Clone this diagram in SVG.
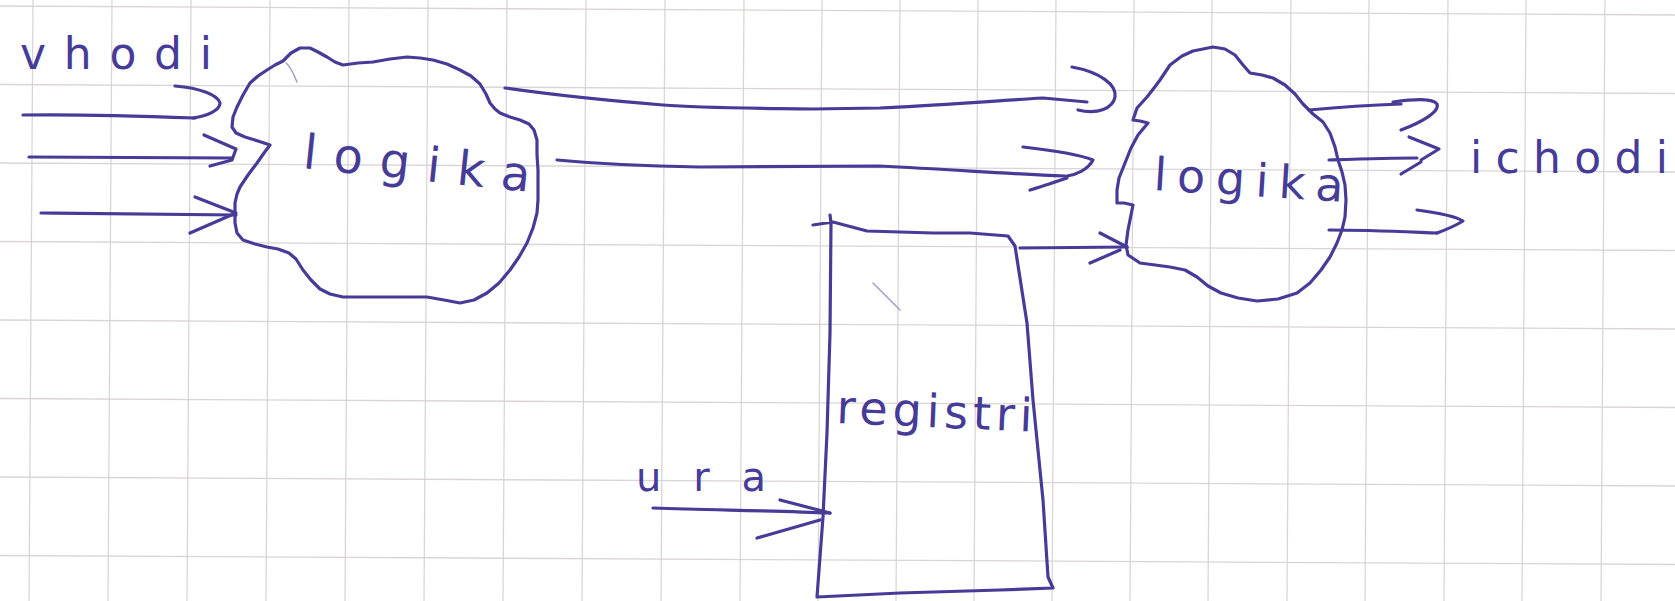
<svg xmlns="http://www.w3.org/2000/svg" width="1675" height="601" viewBox="0 0 1675 601">
<style>
.grid{fill:none;stroke:#dad5d5;stroke-width:1.3}
.pen{fill:none;stroke:#463c98;stroke-width:3.2;stroke-linecap:round;stroke-linejoin:round}
.faint{fill:none;stroke:#a09ac8;stroke-width:1.5;stroke-linecap:round}
.hand{font-family:"DejaVu Sans","Liberation Sans",sans-serif;fill:#463c98}
</style>
<rect x="0" y="0" width="1675" height="601" fill="#ffffff"/>
<g id="grid">
<path class="grid" d="M33,0L29,601 M112,0L108,601 M191,0L187,601 M270,0L266,601 M349,0L345,601 M428,0L424,601 M507,0L503,601 M586,0L582,601 M665,0L661,601 M744,0L740,601 M822,0L818,601 M900,0L896,601 M978,0L974,601 M1056,0L1052,601 M1134,0L1130,601 M1212,0L1208,601 M1291,0L1287,601 M1369,0L1365,601 M1448,0L1444,601 M1526,0L1522,601 M1605,0L1601,601"/>
<path class="grid" d="M0,6L1675,15 M0,84.5L1675,93.5 M0,163L1675,172 M0,241.5L1675,250.5 M0,320L1675,329 M0,398.5L1675,407.5 M0,477L1675,486 M0,555.5L1675,564.5"/>
</g>
<g id="label-vhodi">
<text class="hand" x="20" y="69" font-size="44" textLength="192" lengthAdjust="spacing">vhodi</text>
</g>
<g id="logika-left">
<path class="pen" d="M267,70 L275,65 L283,61 L291,53 L300,48 L310,48 L318,52 L327,57 L335,62 L343,65 L358,63 L373,62 L390,59 L407,57 L420,58 L433,60 L447,64 L460,70 L471,76 L480,84 L486,94 L490,103 L495,109 L500,113 L510,117 L520,120 L529,124 L534,130 L537,140 L537,155 L538,170 L538,185 L538,200 L537,213 L533,228 L527,243 L519,257 L510,270 L499,283 L487,293 L474,300 L460,303 L444,300 L427,297 L407,297 L387,297 L365,297 L343,297 L330,294 L320,289 L311,280 L303,270 L296,259 L289,253 L278,249 L267,247 L255,244 L243,240 L237,233 L235,223 L235,213 L235,203 L237,194 L240,187 L248,175 L257,163 L264,153 L270,145 L258,141 L245,137 L236,133 L232,127 L233,117 L237,107 L243,95 L250,83 L258,76 L267,70 Z"/>
<path class="faint" d="M286,63 C292,68 294,76 297,82"/>
<text class="hand" x="302" y="168" font-size="48" textLength="228" lengthAdjust="spacing" transform="rotate(6 302 168)">logika</text>
</g>
<g id="logika-right">
<path class="pen" d="M1160,80 L1170,65 L1182,56 L1193,51 L1213,47 L1225,49 L1235,55 L1243,65 L1250,73 L1262,75 L1273,78 L1285,85 L1295,94 L1303,104 L1313,114 L1323,122 L1330,133 L1335,147 L1338,160 L1342,172 L1345,185 L1346,200 L1345,217 L1342,230 L1337,243 L1330,257 L1321,270 L1310,283 L1297,293 L1278,299 L1257,301 L1238,298 L1221,293 L1208,286 L1197,277 L1185,270 L1170,267 L1155,265 L1140,263 L1128,255 L1126,245 L1128,230 L1131,215 L1133,205 L1124,203 L1117,203 L1117,190 L1119,178 L1125,163 L1131,148 L1138,135 L1148,123 L1140,121 L1133,120 L1137,108 L1147,97 L1154,88 L1160,80 Z"/>
<text class="hand" x="1153" y="190" font-size="46" textLength="190" lengthAdjust="spacing" transform="rotate(3.5 1153 190)">logika</text>
</g>
<g id="registri">
<path class="pen" d="M813,225 L833,222 L867,231 L933,233 L970,233 L1008,236 L1015,246 L1027,323 L1033,400 L1043,500 L1048,577 L1053,588 L1000,590 L900,593 L817,597 L823,517 L827,433 L830,333 L831,223 L830,215"/>
<path class="faint" d="M873,283 L900,310"/>
<text class="hand" x="836" y="423" font-size="46" textLength="196" lengthAdjust="spacing" transform="rotate(2.5 836 423)">registri</text>
</g>
<g id="label-ura">
<text class="hand" x="636" y="491" font-size="40" textLength="130" lengthAdjust="spacing">ura</text>
</g>
<g id="label-ichodi">
<text class="hand" x="1470" y="173" font-size="44" textLength="198" lengthAdjust="spacing">ichodi</text>
</g>
<g id="connectors">
<path class="pen" d="M23,115 C80,114 140,116 195,118"/>
<path class="pen" d="M175,86 C200,88 218,95 220,103 C220,110 208,116 193,118"/>
<path class="pen" d="M29,157 C100,157 170,158 232,158"/>
<path class="pen" d="M204,135 L236,149 L232,160 M210,166 L232,160"/>
<path class="pen" d="M41,213 C110,214 180,215 236,215"/>
<path class="pen" d="M195,197 L236,213 L190,233"/>
<path class="pen" d="M505,88 C540,93 600,100 663,105 C700,108 740,108 813,109 L880,108 C930,106 977,102 1043,98 L1087,102"/>
<path class="pen" d="M1072,67 C1100,72 1117,85 1115,97 C1113,108 1098,115 1078,110"/>
<path class="pen" d="M557,160 C600,164 647,166 700,167 L880,166 C960,170 1010,174 1065,176"/>
<path class="pen" d="M1023,147 C1050,150 1080,155 1093,160 C1088,170 1075,175 1067,176 M1067,178 C1055,182 1040,187 1030,190"/>
<path class="pen" d="M1020,248 L1127,247"/>
<path class="pen" d="M1100,233 L1127,247 M1090,263 L1120,250"/>
<path class="pen" d="M653,508 C720,510 780,511 830,513"/>
<path class="pen" d="M780,500 L830,513 M757,538 L820,520"/>
<path class="pen" d="M1309,110 C1340,107 1370,105 1401,104"/>
<path class="pen" d="M1393,102 C1415,99 1432,98 1437,104 C1440,112 1420,123 1401,130"/>
<path class="pen" d="M1329,160 C1360,159 1390,158 1417,158"/>
<path class="pen" d="M1409,137 L1439,149 L1421,160 M1421,162 L1401,174"/>
<path class="pen" d="M1329,230 C1370,230 1410,232 1437,233"/>
<path class="pen" d="M1417,210 C1440,213 1455,216 1463,221 C1455,226 1448,229 1437,233"/>
</g>
</svg>
